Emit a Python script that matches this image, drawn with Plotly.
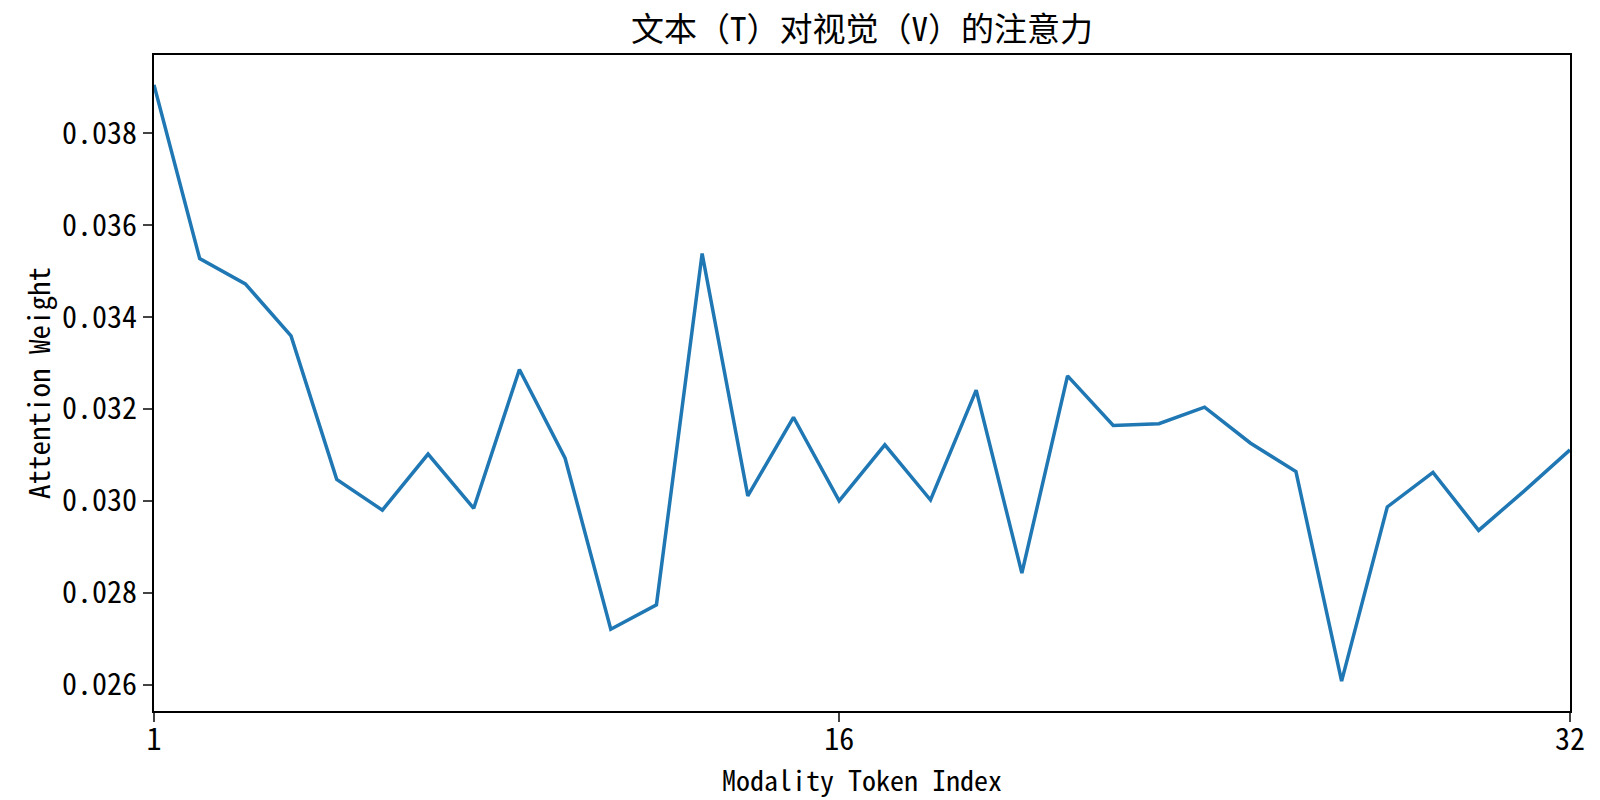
import plotly.graph_objects as go

# token index 1..32 and attention weights
token_index = list(range(1, 33))
attention = [0.03905, 0.03527, 0.03472, 0.03359, 0.03047, 0.02980, 0.03102, 0.02984,
             0.03286, 0.03093, 0.02721, 0.02774, 0.03538, 0.03011, 0.03182, 0.03000,
             0.03122, 0.03002, 0.03241, 0.02843, 0.03272, 0.03164, 0.03168, 0.03204,
             0.03126, 0.03064, 0.02608, 0.02987, 0.03062, 0.02936, 0.03022, 0.03111]
x_ticks = [1, 16, 32]
y_ticks = [0.026, 0.028, 0.030, 0.032, 0.034, 0.036, 0.038]

title = "文本（T）对视觉（V）的注意力"
font = "Noto Sans Mono CJK SC, DejaVu Sans Mono, Noto Sans CJK SC"

# matplotlib-style 5% padding on y
lo, hi = min(attention), max(attention)
pad = (hi - lo) * 0.05

fig = go.Figure()
fig.add_trace(go.Scatter(x=token_index, y=attention, mode="lines",
                         line=dict(color="#1f77b4", width=3.5), showlegend=False))

# page body has an 8px margin, so the figure is a bit smaller than the window
fig.update_layout(
    width=1592, height=792,
    paper_bgcolor="white", plot_bgcolor="white",
    margin=dict(l=146, r=30, t=47, b=89),
    font=dict(family=font, color="black", size=30),
    title=dict(text=title, x=0.5, xref="paper", xanchor="center",
               y=0.973, yanchor="middle", font=dict(size=33)),
)
fig.update_xaxes(range=[1, 32], tickvals=x_ticks, ticks="outside", ticklen=9, tickwidth=2,
                 ticklabelstandoff=-8,
                 showline=True, linecolor="black", linewidth=2, mirror=True,
                 showgrid=False, zeroline=False, automargin=False,
                 title=dict(text="Modality Token Index", standoff=12, font=dict(size=28)))
fig.update_yaxes(range=[lo - pad, hi + pad], tickvals=y_ticks, tickformat=".3f",
                 ticks="outside", ticklen=9, tickwidth=2,
                 showline=True, linecolor="black", linewidth=2, mirror=True,
                 showgrid=False, zeroline=False, automargin=False,
                 title=dict(text="Attention Weight", standoff=3, font=dict(size=29)))

fig.write_html("out.html")
